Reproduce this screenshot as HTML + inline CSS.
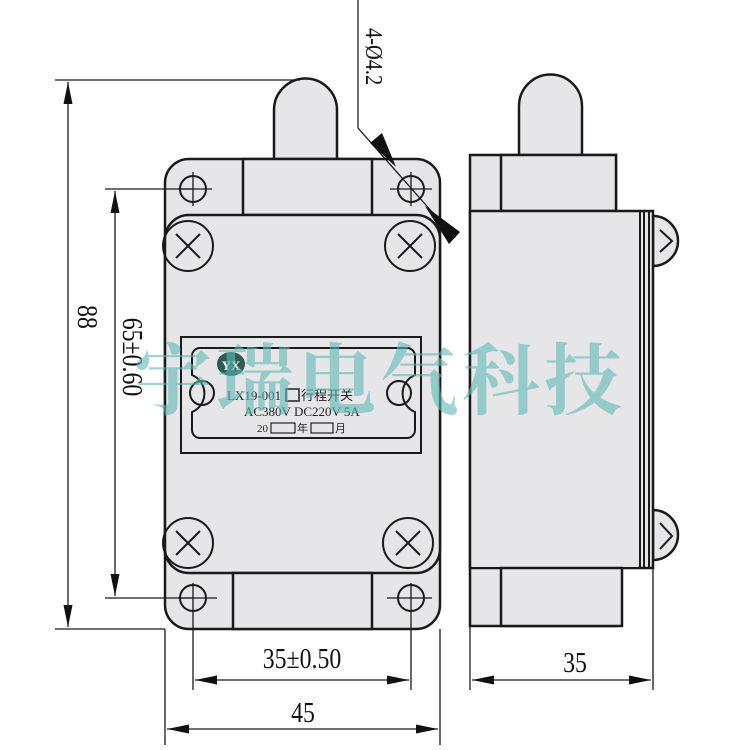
<!DOCTYPE html>
<html><head><style>body{margin:0;background:#fff}svg{display:block}</style></head><body>
<svg width="750" height="750" viewBox="0 0 750 750" xmlns="http://www.w3.org/2000/svg" font-family="Liberation Serif, serif">
<defs>
<marker id="a" viewBox="0 0 10 10" refX="10" refY="5" markerWidth="22" markerHeight="9" orient="auto-start-reverse" markerUnits="userSpaceOnUse" preserveAspectRatio="none"><path d="M0,0L10,5L0,10z" fill="#111"/></marker>
</defs>
<g stroke="#1a1a1a" fill="#e6e6e8" stroke-width="2.5">
<!-- plunger -->
<path d="M274,160 V110 A31.5,31.5 0 0 1 337,110 V160 Z"/>
<path d="M519,156 V106 A31.5,31.5 0 0 1 582,106 V156 Z"/>
<!-- front body -->
<rect x="165" y="159" width="275" height="470" rx="24"/>
<rect x="243" y="159" width="129" height="56"/>
<rect x="165" y="215" width="275" height="358" rx="24"/>
<rect x="233" y="573" width="139" height="56"/>
<!-- side view -->
<rect x="470" y="155" width="146" height="471"/>
<rect x="501" y="155" width="115" height="56"/>
<path d="M653,216 A25,25 0 0 1 653,266 Z"/>
<path d="M653,510 A25,25 0 0 1 653,560 Z"/>
<rect x="470" y="211" width="183" height="357"/>
<rect x="472" y="213" width="166" height="354" stroke="none"/>
<rect x="501" y="568" width="121" height="58"/>
</g>
<g stroke="#1a1a1a" stroke-width="2" fill="none">
<line x1="640" y1="211" x2="640" y2="568"/><line x1="644" y1="211" x2="644" y2="568"/><line x1="649" y1="211" x2="649" y2="568"/>
<path d="M660,230 L672,241 L660,252"/><path d="M660,523 L672,536 L660,549"/>
<circle cx="193" cy="189" r="13"/><circle cx="411" cy="189" r="13"/>
<circle cx="193" cy="598" r="13"/><circle cx="411" cy="598" r="13"/>
<circle cx="188" cy="246" r="25"/><circle cx="410" cy="246" r="25"/>
<circle cx="188" cy="543" r="25"/><circle cx="408" cy="543" r="25"/>
<path d="M176,234L200,258M200,234L176,258M398,234L422,258M422,234L398,258M176,531L200,555M200,531L176,555M396,531L420,555M420,531L396,555"/>
</g>
<g stroke="#1a1a1a" stroke-width="1.3" fill="none">
<path d="M178,189H212M193,172V206M390,189H432M411,172V206M178,598H217M193,583V690M387,598H432M411,583V690"/>
<path d="M55,80H300M55,629H165M105,189H193M105,598H193"/>
<line x1="68" y1="82" x2="68" y2="627" marker-start="url(#a)" marker-end="url(#a)"/>
<line x1="115" y1="191" x2="115" y2="596" marker-start="url(#a)" marker-end="url(#a)"/>
<path d="M165,629V745M440,629V745M470,626V690M653,560V690"/>
<line x1="195" y1="680" x2="409" y2="680" marker-start="url(#a)" marker-end="url(#a)"/>
<line x1="167" y1="729" x2="438" y2="729" marker-start="url(#a)" marker-end="url(#a)"/>
<line x1="472" y1="680" x2="651" y2="680" marker-start="url(#a)" marker-end="url(#a)"/>
<path d="M358,0V128L455,238"/>
</g>
<path d="M370,143L382,133L396,167Z" fill="#111"/>
<path d="M425,206L460,232L449,244Z" fill="#111"/>
<g stroke="#1a1a1a" stroke-width="2" fill="none">
<rect x="181" y="337" width="240" height="116"/>
<path d="M200,348H407A8,8 0 0 1 415,356V375A20,20 0 0 0 415,412V430A8,8 0 0 1 407,438H200A8,8 0 0 1 192,430V412A20,20 0 0 0 192,375V356A8,8 0 0 1 200,348Z"/>
<circle cx="202" cy="393" r="12"/><circle cx="399" cy="393" r="12"/>
</g>
<ellipse cx="231" cy="364" rx="14" ry="12" fill="#2c5a55"/>
<text x="231" y="370" font-size="13" font-weight="bold" fill="#fff" text-anchor="middle">YX</text>
<g fill="#222" font-size="13">
<text x="227" y="400">LX19-001</text>
<rect x="286" y="389" width="13" height="12" fill="none" stroke="#222" stroke-width="1.5"/>
<text x="301" y="400" font-family="Noto Sans CJK SC, sans-serif">行程开关</text>
<text x="244" y="416">AC380V  DC220V  5A</text>
<text x="257" y="432" font-size="11">20</text>
<rect x="271" y="423" width="24" height="10" fill="none" stroke="#222" stroke-width="1.2"/>
<text x="297" y="432" font-size="11" font-family="Noto Sans CJK SC, sans-serif">年</text>
<rect x="311" y="423" width="22" height="10" fill="none" stroke="#222" stroke-width="1.2"/>
<text x="335" y="432" font-size="11" font-family="Noto Sans CJK SC, sans-serif">月</text>
</g>
<g fill="#111" font-size="28">
<text transform="translate(78,317) rotate(90) scale(0.85,1)" text-anchor="middle">88</text>
<text transform="translate(123,357) rotate(90) scale(0.85,1)" text-anchor="middle">65±0.60</text>
<text transform="translate(302,668) scale(0.85,1)" text-anchor="middle">35±0.50</text>
<text transform="translate(303,722) scale(0.85,1)" text-anchor="middle">45</text>
<text transform="translate(575,672) scale(0.85,1)" text-anchor="middle">35</text>
<text transform="translate(366,28) rotate(90) scale(0.85,1)" font-size="24">4-Ø4.2</text>
</g>
<text x="380" y="408" font-size="78" font-weight="bold" fill="#5fb8b6" fill-opacity="0.6" text-anchor="middle" letter-spacing="4" font-family="Noto Serif CJK SC, serif">宇瑞电气科技</text>
</svg>
</body></html>
